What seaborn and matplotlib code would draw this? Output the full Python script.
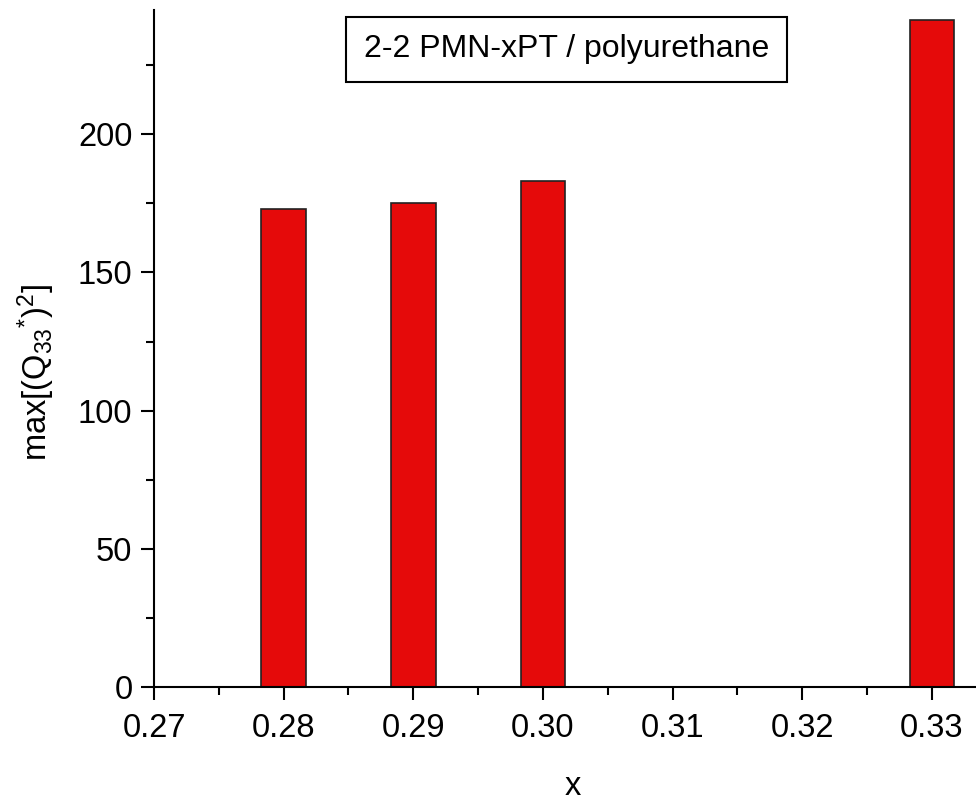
import matplotlib
matplotlib.use("Agg")
import matplotlib.pyplot as plt
from matplotlib.ticker import MultipleLocator
import seaborn as sns
import pandas as pd

# PMN-xPT composition and the maximum squared figure of merit
x_values = [0.28, 0.29, 0.30, 0.33]
q33_sq_max = [173.0, 175.0, 183.0, 241.4]
x_ticks = [0.27, 0.28, 0.29, 0.30, 0.31, 0.32, 0.33]
x_tick_labels = ["0.27", "0.28", "0.29", "0.30", "0.31", "0.32", "0.33"]
y_ticks = [0, 50, 100, 150, 200]

sns.set_theme(style="ticks")
plt.rcParams["font.family"] = ["Liberation Sans", "DejaVu Sans"]
plt.rcParams["mathtext.fontset"] = "custom"
plt.rcParams["mathtext.rm"] = "Liberation Sans"
plt.rcParams["mathtext.it"] = "Liberation Sans"
plt.rcParams["text.color"] = "black"
plt.rcParams["axes.labelcolor"] = "black"
plt.rcParams["xtick.color"] = "black"
plt.rcParams["ytick.color"] = "black"

df = pd.DataFrame({"x": x_values, "q": q33_sq_max})

fig = plt.figure(figsize=(9.76, 8.05), dpi=100)
ax = fig.add_axes([0.1578, 0.1466, 0.8422, 0.8410])

sns.barplot(data=df, x="x", y="q", native_scale=True, width=0.343,
            color="#E50A0A", saturation=1, edgecolor="#222222",
            linewidth=1.2, ax=ax)

ax.set_xlim(0.2729, 0.3334)
ax.set_ylim(0, 245)
ax.set_xticks(x_ticks)
ax.set_xticklabels(x_tick_labels)
ax.set_yticks(y_ticks)
ax.xaxis.set_minor_locator(MultipleLocator(0.005))
ax.yaxis.set_minor_locator(MultipleLocator(25))

for side in ("top", "right"):
    ax.spines[side].set_visible(False)
for side in ("left", "bottom"):
    ax.spines[side].set_linewidth(1.5)
    ax.spines[side].set_color("black")

ax.tick_params(axis="both", which="major", direction="out", length=9.5,
               width=1.5, labelsize=23.5, pad=6, color="black",
               labelcolor="black")
ax.tick_params(axis="x", which="major", pad=9)
ax.tick_params(axis="both", which="minor", direction="out", length=6,
               width=1.5, color="black")

ax.set_xlabel("x", fontsize=23.5)
ax.set_ylabel(r"max[(Q$_{33}$$^{*}$)$^{2}$]", fontsize=23.5)
ax.xaxis.set_label_coords(0.51, -0.124)
ax.yaxis.set_label_coords(-0.118, 0.465)

ax.text(0.502, 0.9417, "2-2 PMN-xPT / polyurethane", transform=ax.transAxes,
        ha="center", va="center", fontsize=23, color="black",
        bbox=dict(boxstyle="square,pad=0.55", facecolor="white",
                  edgecolor="black", linewidth=1.5))

fig.savefig("out.png", dpi=100)
